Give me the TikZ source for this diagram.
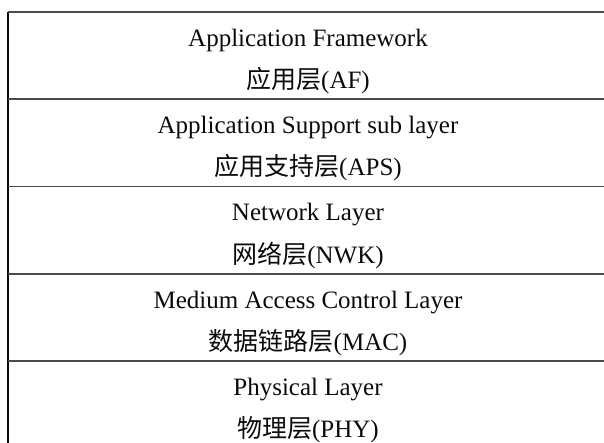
\documentclass[tikz,border=0pt]{standalone}
\usepackage{fontspec}
\setmainfont{Liberation Serif}
\newfontfamily\cjk{Noto Sans CJK SC}
\definecolor{ink}{HTML}{0A0A0A}
\definecolor{rule}{HTML}{4A4A4A}

\begin{document}
\begin{tikzpicture}[x=1pt,y=-1pt,font=\fontsize{25}{30}\selectfont,text=ink]
  \def\xl{8}\def\xr{604}\def\ytop{12}\def\rowh{87.25}\def\xmid{308}
  \useasboundingbox (0,0) rectangle (604,443);
  \draw[ink,line width=1.5pt] (\xl,\ytop)--(\xl,443);
  \foreach \i in {0,...,4}
    \draw[rule,line width=1.6pt] (\xl,{\ytop+\i*\rowh})--(\xr,{\ytop+\i*\rowh});
  \foreach \n/\en/\cn [count=\i from 0] in {
      af/Application Framework/{\cjk 应用层}(AF),
      aps/Application Support sub layer/{\cjk 应用支持层}(APS),
      nwk/Network Layer/{\cjk 网络层}(NWK),
      mac/Medium Access Control Layer/{\cjk 数据链路层}(MAC),
      phy/Physical Layer/{\cjk 物理层}(PHY)} {
    \node[anchor=base] (\n-en) at (\xmid,{\ytop+\i*\rowh+34.5}) {\en};
    \node[anchor=base] (\n-cn) at (\xmid,{\ytop+\i*\rowh+76.5}) {\cn};
  }
\end{tikzpicture}
\end{document}
